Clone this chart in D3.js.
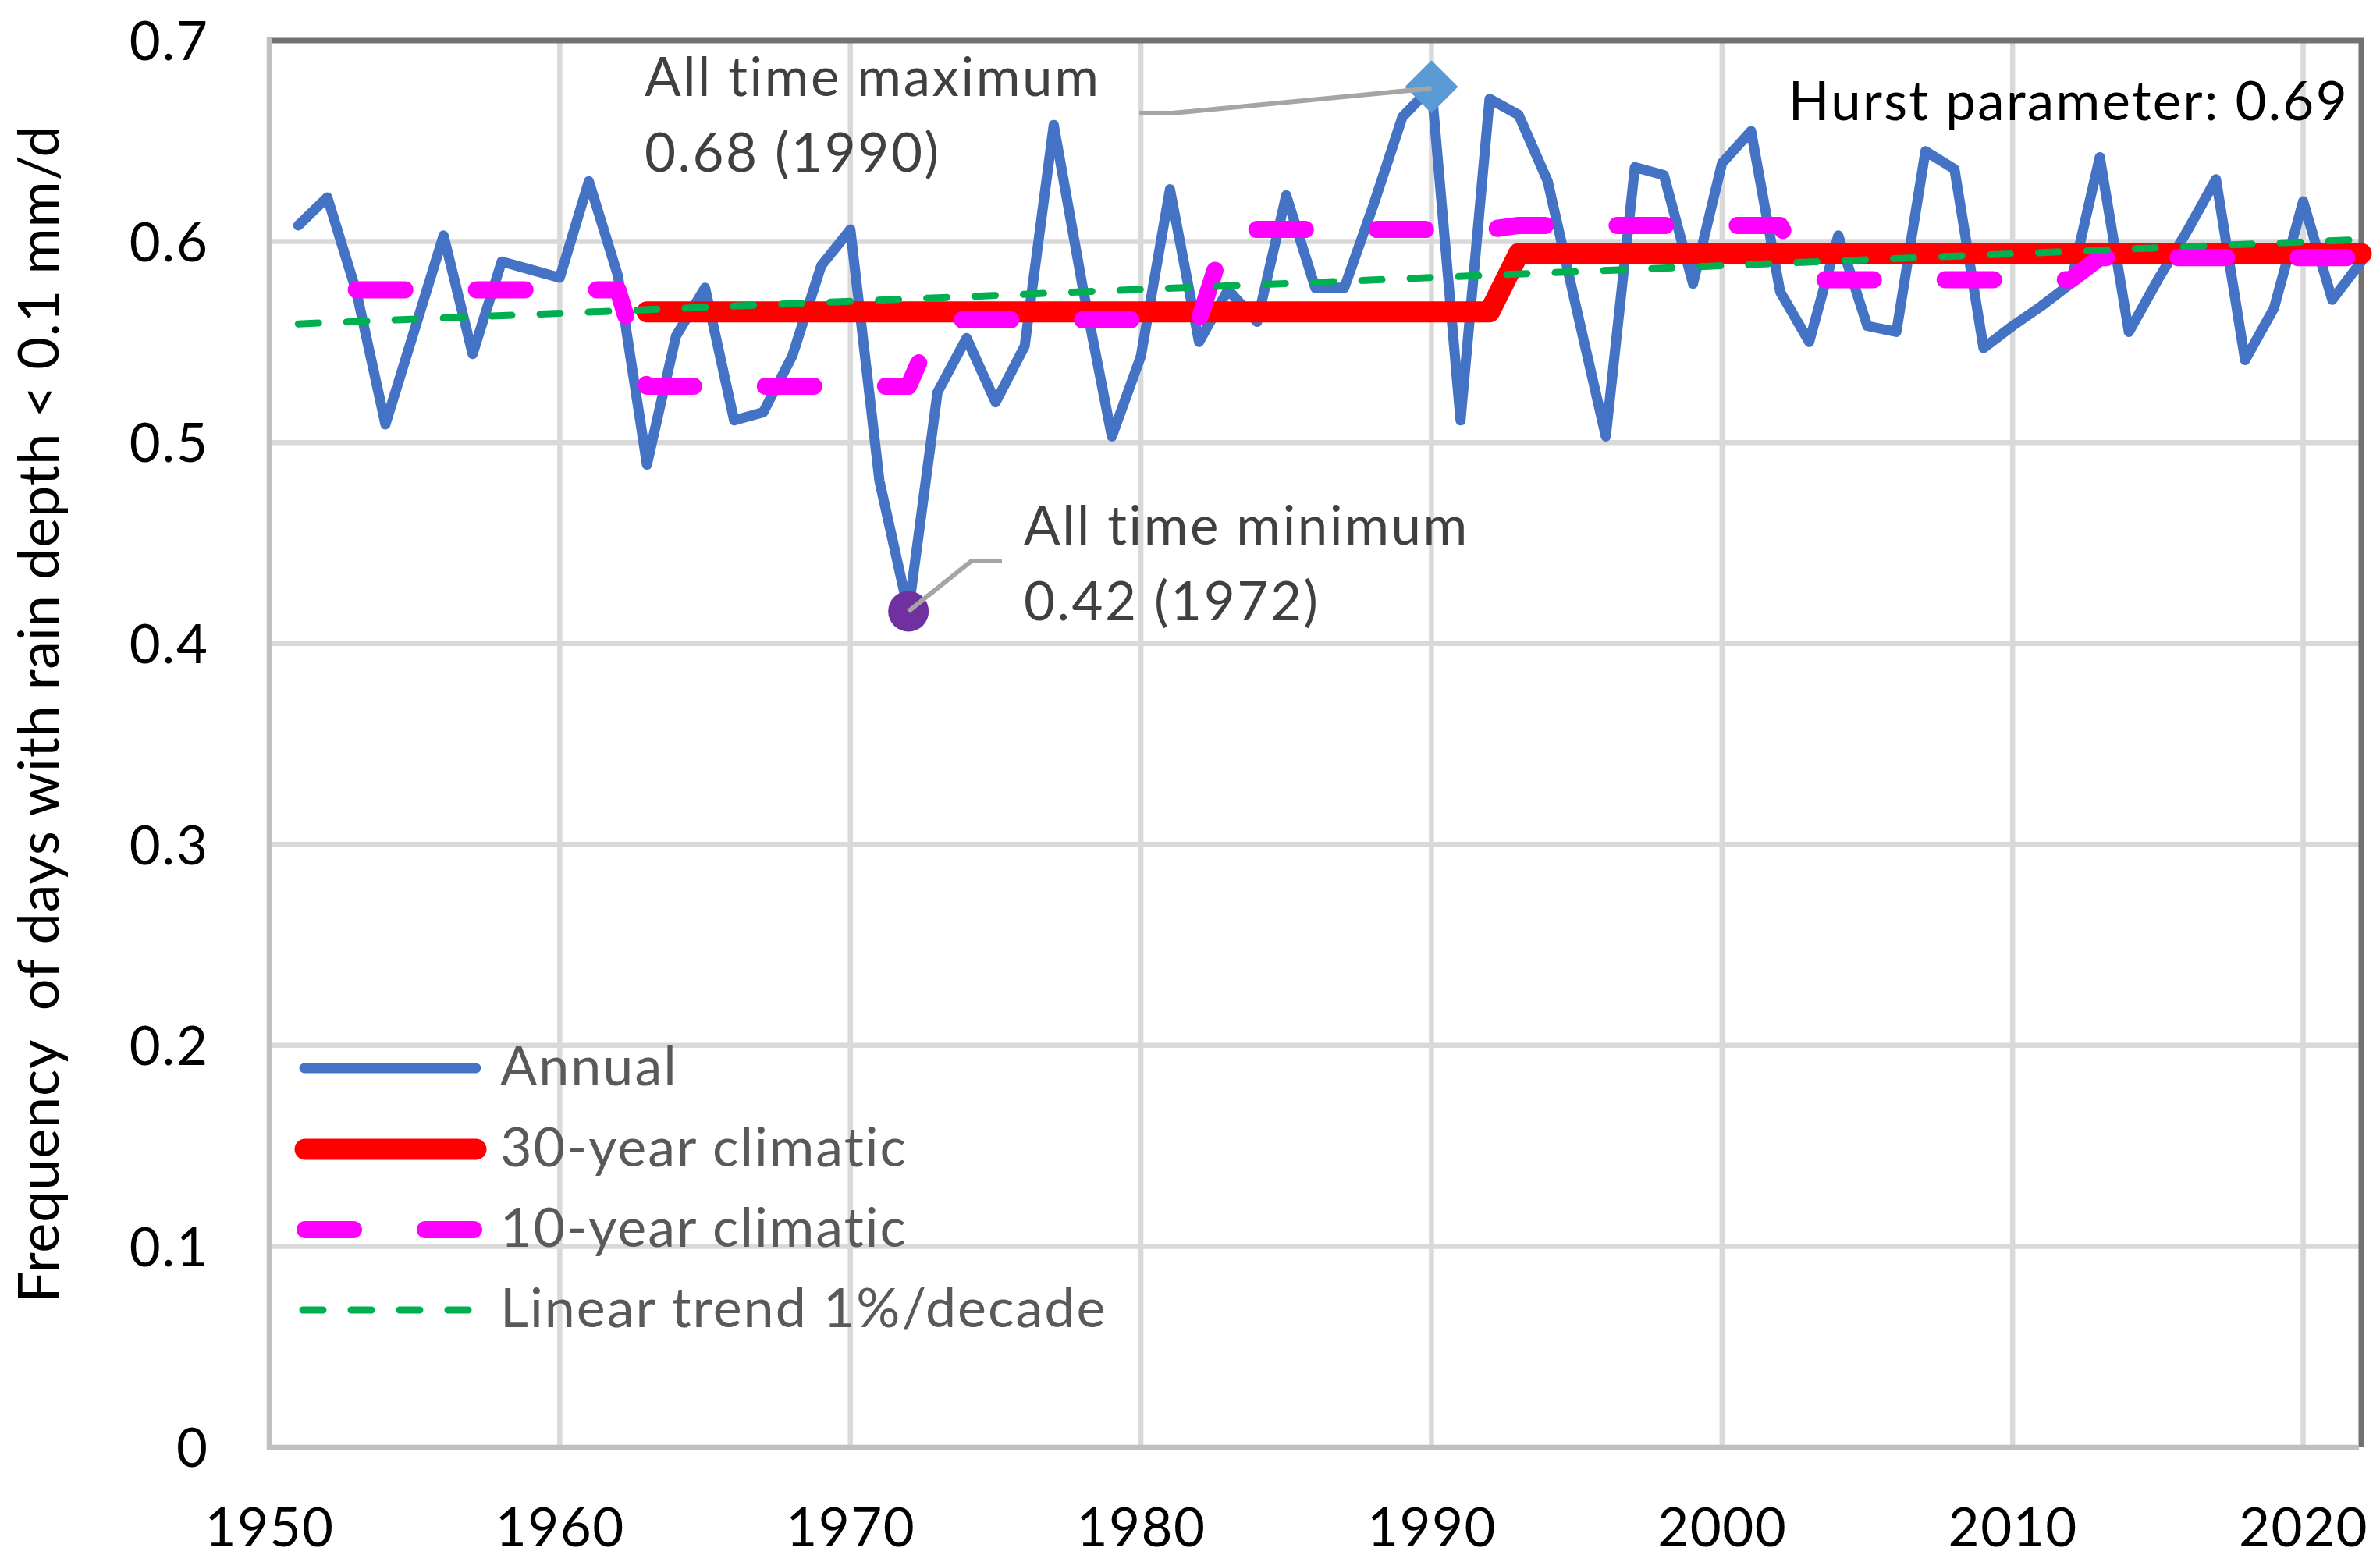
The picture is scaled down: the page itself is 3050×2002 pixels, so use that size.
<!DOCTYPE html>
<html><head><meta charset="utf-8">
<script src="https://cdn.jsdelivr.net/npm/d3@7/dist/d3.min.js"></script>
<style>html,body{margin:0;padding:0;background:#fff;} svg{display:block;}</style>
</head><body><svg id="chart" width="3050" height="2002"></svg>
<script>
// ---------------- data ----------------
const years = d3.range(1951, 2023);
const annual = [
  0.608, 0.622, 0.575, 0.509, 0.556, 0.603, 0.544, 0.590, 0.586, 0.582, // 1951-1960
  0.630, 0.583, 0.489, 0.553, 0.577, 0.511, 0.515, 0.543, 0.588, 0.606, // 1961-1970
  0.481, 0.416, 0.525, 0.552, 0.520, 0.548, 0.658, 0.577, 0.503, 0.543, // 1971-1980
  0.626, 0.550, 0.576, 0.560, 0.623, 0.577, 0.577, 0.618, 0.662, 0.677, // 1981-1990
  0.511, 0.671, 0.663, 0.630, 0.566, 0.503, 0.637, 0.633, 0.579, 0.639, // 1991-2000
  0.655, 0.575, 0.550, 0.603, 0.558, 0.555, 0.645, 0.636, 0.547, 0.558, // 2001-2010
  0.568, 0.579, 0.642, 0.555, 0.581, 0.605, 0.631, 0.541, 0.567, 0.620, // 2011-2020
  0.571, 0.590                                                          // 2021-2022
];
const clim30Start = [1963, 1993];
const clim30End   = [1992, 2022];
const clim30Value = [0.565, 0.594];
const clim10Start = [1953, 1963, 1973, 1983, 1993, 2003, 2013];
const clim10End   = [1962, 1972, 1982, 1992, 2002, 2012, 2022];
const clim10Value = [0.576, 0.528, 0.561, 0.606, 0.608, 0.581, 0.592];
const trendYears  = [1951, 2022];
const trendValues = [0.559, 0.601];
const xTicks = [1950, 1960, 1970, 1980, 1990, 2000, 2010, 2020];
const yTicks = [0, 0.1, 0.2, 0.3, 0.4, 0.5, 0.6, 0.7];
const legendLabels = ["Annual", "30-year climatic", "10-year climatic", "Linear trend 1%/decade"];
const yTitle = "Frequency\u00A0 of days with rain depth < 0.1 mm/d";
const hurstText = "Hurst parameter: 0.69";

// ---------------- layout ----------------
const FONT = "Lato, 'Open Sans', sans-serif";
const L = 345, R = 3026, T = 52, B = 1855;
const x = d3.scaleLinear().domain([1950, 2022]).range([L, R]);
const y = d3.scaleLinear().domain([0, 0.7]).range([B, T]);
const svg = d3.select("#chart");
svg.append("rect").attr("width", 3050).attr("height", 2002).attr("fill", "#fff");

// gridlines
svg.append("g").selectAll("line").data(xTicks.filter(d => d > 1950)).join("line")
  .attr("x1", d => x(d)).attr("x2", d => x(d)).attr("y1", T).attr("y2", B)
  .attr("stroke", "#D9D9D9").attr("stroke-width", 6.5);
svg.append("g").selectAll("line").data(yTicks.filter(d => d > 0 && d < 0.7)).join("line")
  .attr("x1", L).attr("x2", R).attr("y1", d => y(d)).attr("y2", d => y(d))
  .attr("stroke", "#D9D9D9").attr("stroke-width", 6.5);

// frame
svg.append("line").attr("x1", L - 3).attr("x2", R + 3).attr("y1", T).attr("y2", T)
  .attr("stroke", "#767171").attr("stroke-width", 7);
svg.append("line").attr("x1", R).attr("x2", R).attr("y1", T).attr("y2", B)
  .attr("stroke", "#767171").attr("stroke-width", 7);
svg.append("line").attr("x1", L).attr("x2", L).attr("y1", T - 3).attr("y2", B + 3)
  .attr("stroke", "#BFBFBF").attr("stroke-width", 6.5);
svg.append("line").attr("x1", L).attr("x2", R - 3).attr("y1", B).attr("y2", B)
  .attr("stroke", "#BFBFBF").attr("stroke-width", 6.5);

// axes labels via d3 axes
const yAxis = svg.append("g").attr("transform", `translate(${L},0)`)
  .call(d3.axisLeft(y).tickValues(yTicks).tickSize(0).tickPadding(77).tickFormat(d => d3.format("")(+d.toFixed(1))));
yAxis.select(".domain").remove();
yAxis.selectAll("text").attr("font-family", FONT).attr("font-size", 69).attr("fill", "#000")
  .attr("dy", "0.36em").attr("letter-spacing", 2);

const xAxis = svg.append("g").attr("transform", `translate(0,${B})`)
  .call(d3.axisBottom(x).tickValues(xTicks).tickSize(0).tickPadding(0).tickFormat(d3.format("d")));
xAxis.select(".domain").remove();
xAxis.selectAll("text").attr("font-family", FONT).attr("font-size", 69).attr("fill", "#000")
  .attr("dy", null).attr("y", 127).attr("letter-spacing", 1.5);

// y-axis title
svg.append("text").attr("transform", "translate(75,915) rotate(-90)")
  .attr("text-anchor", "middle").attr("font-family", FONT).attr("font-size", 72).attr("fill", "#000")
  .attr("letter-spacing", 0.8).text(yTitle);

// ---------------- series ----------------
const line = d3.line().x(d => x(d[0])).y(d => y(d[1]));
const annualPts = years.map((yr, i) => [yr, annual[i]]);
const stepPts = (s, e, v) => s.flatMap((st, i) => [[st, v[i]], [e[i], v[i]]]);

svg.append("path").attr("d", line(annualPts)).attr("fill", "none")
  .attr("stroke", "#4472C4").attr("stroke-width", 13).attr("stroke-linejoin", "round").attr("stroke-linecap", "round");
svg.append("path").attr("d", line(stepPts(clim30Start, clim30End, clim30Value))).attr("fill", "none")
  .attr("stroke", "#FF0000").attr("stroke-width", 27).attr("stroke-linejoin", "round").attr("stroke-linecap", "round");
svg.append("path").attr("d", line(stepPts(clim10Start, clim10End, clim10Value))).attr("fill", "none")
  .attr("stroke", "#FF00FF").attr("stroke-width", 22).attr("stroke-linejoin", "round").attr("stroke-linecap", "round")
  .attr("stroke-dasharray", "62,92");
svg.append("path").attr("d", line(trendYears.map((yr, i) => [yr, trendValues[i]]))).attr("fill", "none")
  .attr("stroke", "#00B050").attr("stroke-width", 9).attr("stroke-linecap", "round")
  .attr("stroke-dasharray", "26,36");

// ---------------- extremes ----------------
const maxI = d3.maxIndex(annual), minI = d3.minIndex(annual);
const mx = x(years[maxI]), my = y(annual[maxI]);
const nx = x(years[minI]), ny = y(annual[minI]);
const dS = 34;
svg.append("path").attr("d", `M${mx},${my - dS}L${mx + dS},${my}L${mx},${my + dS}L${mx - dS},${my}Z`).attr("fill", "#5B9BD5");
svg.append("ellipse").attr("cx", nx).attr("cy", ny).attr("rx", 26).attr("ry", 26).attr("fill", "#7030A0");

// leader lines
svg.append("path").attr("d", `M${mx},${my + 2}L1502,145L1460,145`).attr("fill", "none")
  .attr("stroke", "#A5A5A5").attr("stroke-width", 6);
svg.append("path").attr("d", `M${nx},${ny}L1245,719L1284,719`).attr("fill", "none")
  .attr("stroke", "#A5A5A5").attr("stroke-width", 6);

const fmt = d3.format(".2f");
const annot = svg.append("g").attr("font-family", FONT).attr("font-size", 69).attr("fill", "#404040")
  .attr("letter-spacing", 2.6);
annot.append("text").attr("x", 826).attr("y", 123).text("All time maximum");
annot.append("text").attr("x", 826).attr("y", 220).text(`${fmt(annual[maxI])} (${years[maxI]})`);
annot.append("text").attr("x", 1312).attr("y", 698).text("All time minimum");
annot.append("text").attr("x", 1312).attr("y", 795).text(`${fmt(annual[minI])} (${years[minI]})`);

svg.append("text").attr("x", 3010).attr("y", 154).attr("text-anchor", "end")
  .attr("font-family", FONT).attr("font-size", 69).attr("fill", "#000").attr("letter-spacing", 2.3).text(hurstText);

// ---------------- legend ----------------
const legY = [1369, 1473, 1576, 1679];
const legStyles = [
  {c: "#4472C4", w: 13, dash: null, x1: 390},
  {c: "#FF0000", w: 27, dash: null, x1: 391},
  {c: "#FF00FF", w: 22, dash: "62,92", x1: 391},
  {c: "#00B050", w: 9, dash: "26,36", x1: 388}
];
const leg = svg.append("g");
legendLabels.forEach((lab, i) => {
  const s = legStyles[i];
  leg.append("line").attr("x1", s.x1).attr("x2", 610).attr("y1", legY[i]).attr("y2", legY[i])
    .attr("stroke", s.c).attr("stroke-width", s.w).attr("stroke-linecap", "round")
    .attr("stroke-dasharray", s.dash);
  leg.append("text").attr("x", 641).attr("y", legY[i] + 22).attr("font-family", FONT)
    .attr("font-size", 70).attr("fill", "#595959").attr("letter-spacing", 2).text(lab);
});
</script></body></html>
